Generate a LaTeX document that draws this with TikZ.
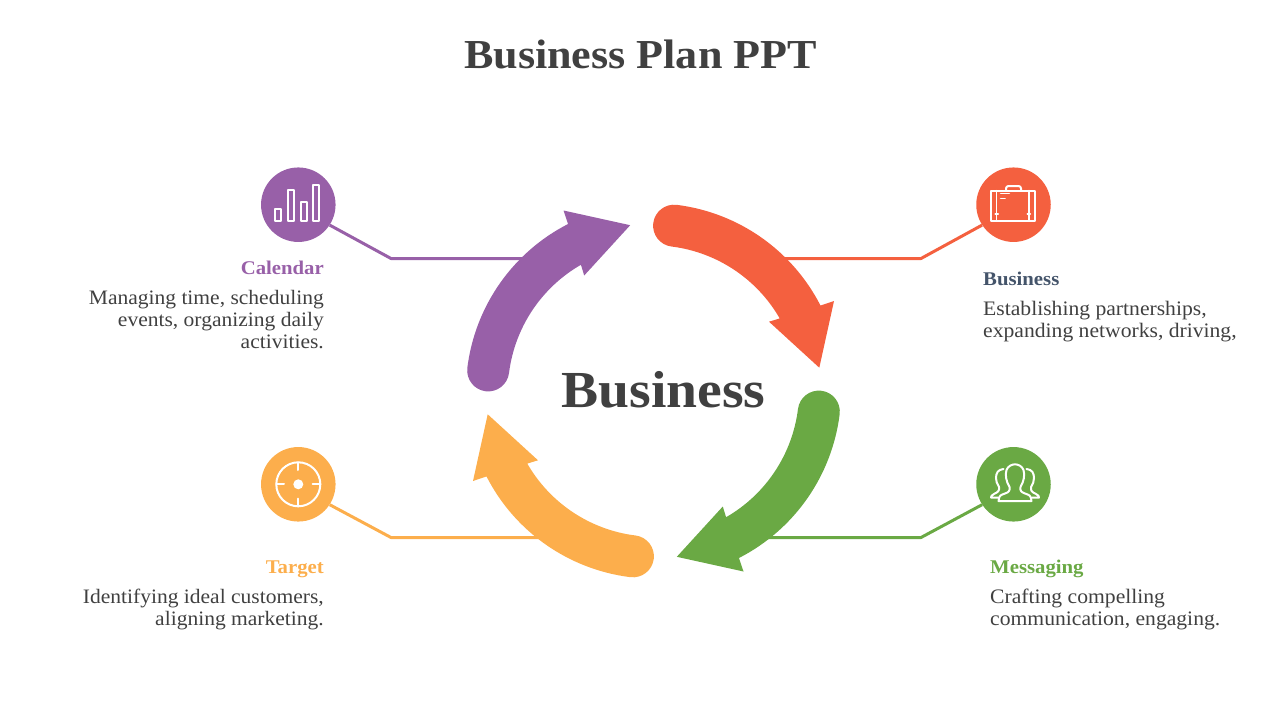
\documentclass[tikz,border=0pt]{standalone}
\usepackage{fontspec}
\setmainfont[FakeStretch=1.05,BoldFeatures={FakeStretch=1.07}]{Liberation Serif}
\definecolor{cpurple}{HTML}{9860A8}
\definecolor{cred}{HTML}{F4603F}
\definecolor{cgreen}{HTML}{6AA944}
\definecolor{corange}{HTML}{FCAE4C}
\definecolor{ctext}{HTML}{404040}
\definecolor{cnavy}{HTML}{44546A}
\newcommand\ringarrow[2]{%
  \begin{scope}[shift={(653.5,391)},rotate=#1,x=1pt,y=1pt]
    \fill[#2] (82.9:187.6pt) arc[start angle=82.9,end angle=27.1,radius=187.6pt]
      -- (180.5,90) -- (165.8,23.3) -- (115.5,69.3) -- (29.9:145.6pt)
      arc[start angle=29.9,end angle=82.9,radius=145.6pt]
      arc[start angle=262.9,end angle=82.9,radius=21pt] -- cycle;
  \end{scope}}
\tikzset{
  badge/.style={circle,inner sep=0pt,minimum size=74.5pt,fill=#1},
  link/.style={draw=#1,line width=3pt,line join=round},
  icon/.style={draw=white,line width=2pt,line join=round,line cap=round},
  heading/.style={font=\fontsize{19.4}{22}\selectfont\bfseries,inner sep=0pt,text=#1},
  bodyl/.style={font=\fontsize{20.6}{22.3}\selectfont,inner sep=0pt,text=ctext,align=left,anchor=base west},
  bodyr/.style={font=\fontsize{20.5}{22.3}\selectfont,inner sep=0pt,text=ctext,align=right,anchor=base east},
}
\begin{document}
\begin{tikzpicture}[x=1pt,y=-1pt]
\useasboundingbox (0,0) rectangle (1280,720);
\node[font=\fontsize{41.2}{48}\selectfont\bfseries,text=ctext,inner sep=0pt,anchor=base] (title) at (640.5,68) {Business Plan PPT};
\node[badge=cpurple] (c1) at (298.3,204.7) {};
\node[badge=cred] (c2) at (1013.5,204.7) {};
\node[badge=corange] (c3) at (298.3,484.3) {};
\node[badge=cgreen] (c4) at (1013.5,484.3) {};
\coordinate (k1) at (391,258.5); \coordinate (e1) at (530,258.5);
\coordinate (k2) at (921,258.5); \coordinate (e2) at (780,258.5);
\coordinate (k3) at (391,537.5); \coordinate (e3) at (545,537.5);
\coordinate (k4) at (921,537.5); \coordinate (e4) at (765,537.5);
\draw[link=cpurple] (c1.-33) -- (k1) -- (e1);
\draw[link=cred] (c2.-147) -- (k2) -- (e2);
\draw[link=corange] (c3.-33) -- (k3) -- (e3);
\draw[link=cgreen] (c4.-147) -- (k4) -- (e4);
\ringarrow{0}{cred}
\ringarrow{-90}{cgreen}
\ringarrow{180}{corange}
\ringarrow{90}{cpurple}
\node[font=\fontsize{52}{58}\selectfont\bfseries,text=ctext,inner sep=0pt,anchor=base] (center) at (663.5,407) {Business};
% bar chart icon
\foreach \a/\b/\t in {274.8/281.2/208.8,287.5/293.8/189.5,300.5/306.5/201.8,313.2/318.8/185.2}
  \draw[icon] (\a,\t) rectangle (\b,220.5);
% briefcase icon
\draw[icon] (991.2,190.5) rectangle (1035,220.5);
\draw[icon] (1006,190.5) -- (1006,188.5) arc[start angle=180,end angle=90,radius=2.5pt] -- (1018.5,186) arc[start angle=90,end angle=0,radius=2.5pt] -- (1021,190.5);
\draw[icon,line width=1.5pt] (996.7,190.5) -- (996.7,220.5) (1028.8,190.5) -- (1028.8,220.5);
\draw[icon,line width=1.5pt] (995.2,214) -- (998.2,214) (1027.3,214) -- (1030.3,214);
\draw[icon,line width=1.5pt] (1000.7,193.5) -- (1009.3,193.5) (1000.7,198.5) -- (1005,198.5);
% target icon
\draw[icon] (298.3,484.3) circle[radius=22pt];
\fill[white] (298.3,484.3) circle[radius=5pt];
\draw[icon] (298.3,462.3) -- (298.3,470) (298.3,498.6) -- (298.3,506.3) (276.3,484.3) -- (284,484.3) (312.6,484.3) -- (320.3,484.3);
% people icon
\draw[icon] (998.5,501) .. controls (999,495) and (1001,495) .. (1005,493.5) .. controls (1009,492) and (1010,491) .. (1009.5,487) .. controls (1006,481) and (1005,475) .. (1006.5,470) .. controls (1008,466) and (1012,464.3) .. (1015,464.3) .. controls (1018,464.3) and (1022,466) .. (1023.5,470) .. controls (1025,475) and (1024,481) .. (1020.5,487) .. controls (1020,491) and (1021,492) .. (1025,493.5) .. controls (1029,495) and (1031,495) .. (1031.5,501) -- cycle;
\draw[icon] (1003.5,469) .. controls (998,469.5) and (996,473) .. (996,478) .. controls (996,481) and (997,484) .. (999,487) .. controls (999.5,491) and (998,492) .. (994,494) .. controls (991.5,495.5) and (991,496) .. (991,497.5) -- (998,497.5);
\draw[icon] (1026.5,469) .. controls (1032,469.5) and (1034,473) .. (1034,478) .. controls (1034,481) and (1033,484) .. (1031,487) .. controls (1030.5,491) and (1032,492) .. (1036,494) .. controls (1038.5,495.5) and (1039,496) .. (1039,497.5) -- (1032,497.5);
% texts
\node[heading=cpurple,anchor=base east] (h1) at (324,274) {Calendar};
\node[bodyr] (t1) at (324,348.6) {Managing time, scheduling\\events, organizing daily\\activities.};
\node[heading=cnavy,anchor=base west] (h2) at (983,285) {Business};
\node[bodyl] (t2) at (983,337.3) {Establishing partnerships,\\expanding networks, driving,};
\node[heading=corange,anchor=base east] (h3) at (324,573) {Target};
\node[bodyr] (t3) at (324,625.3) {Identifying ideal customers,\\aligning marketing.};
\node[heading=cgreen,anchor=base west] (h4) at (990,573) {Messaging};
\node[bodyl] (t4) at (990,625.3) {Crafting compelling\\communication, engaging.};
\end{tikzpicture}
\end{document}
